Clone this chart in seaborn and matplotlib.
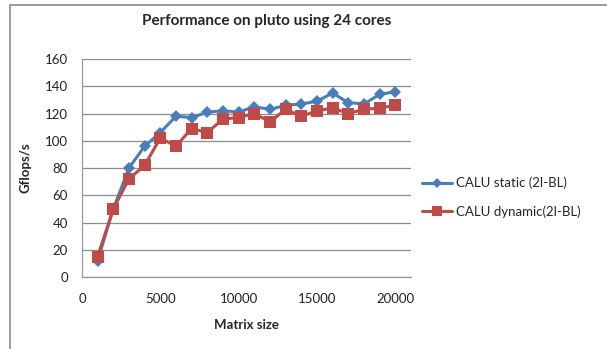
import matplotlib
matplotlib.use("Agg")
import matplotlib.pyplot as plt
import matplotlib.patches as mpatches
import numpy as np
import pandas as pd
import seaborn as sns

# Matrix sizes and measured throughput (Gflops/s)
matrix_size = [1000, 2000, 3000, 4000, 5000, 6000, 7000, 8000, 9000, 10000,
               11000, 12000, 13000, 14000, 15000, 16000, 17000, 18000, 19000, 20000]
calu_static = [12, 50, 80, 96, 106, 118, 117, 121, 122, 121,
               125, 123, 126, 127, 129, 135, 128, 127, 134, 136]
calu_dynamic = [15, 50, 72, 82, 102, 96, 109, 106, 116, 117,
                120, 114, 123, 118, 122, 124, 120, 123, 124, 126]
series_names = ["CALU static (2l-BL)", "CALU dynamic(2l-BL)"]
y_ticks = [0, 20, 40, 60, 80, 100, 120, 140, 160]
x_ticks = [0, 5000, 10000, 15000, 20000]

df = pd.DataFrame({
    "Matrix size": matrix_size * 2,
    "Gflops/s": calu_static + calu_dynamic,
    "series": [series_names[0]] * len(matrix_size) + [series_names[1]] * len(matrix_size),
})

sns.set_theme(style="white")
plt.rcParams["font.family"] = ["Lato", "DejaVu Sans"]

fig = plt.figure(figsize=(6.07, 3.49), dpi=100)
ax = fig.add_axes([0.135, 0.206, 0.542, 0.625])

palette = {series_names[0]: "#4A7EBB", series_names[1]: "#BE4B48"}
sns.lineplot(data=df, x="Matrix size", y="Gflops/s", hue="series", style="series",
             markers={series_names[0]: "D", series_names[1]: "s"},
             dashes=False, palette=palette, linewidth=2.2, ax=ax,
             legend=False)
for line, ms in zip(ax.lines, [6, 8.5]):
    line.set_markersize(ms)
    line.set_markeredgewidth(0)

ax.set_xlim(0, 21000)
ax.set_ylim(0, 160)
ax.set_xticks(x_ticks)
ax.set_yticks(y_ticks)
ax.tick_params(axis="both", labelsize=9.5, colors="#222222", width=0.8)
ax.tick_params(axis="x", color="#999999", length=7, direction="inout", pad=8)
ax.tick_params(axis="y", color="#999999", length=4, direction="out", pad=6)
ax.yaxis.grid(True, color="#8c8c8c", linewidth=0.9)
ax.set_axisbelow(True)
for side in ["top", "right"]:
    ax.spines[side].set_visible(False)
for side in ["left", "bottom"]:
    ax.spines[side].set_color("#999999")
    ax.spines[side].set_linewidth(0.9)

ax.set_xlabel("Matrix size", fontsize=9.5, fontweight="bold", labelpad=10)
ax.set_ylabel("Gflops/s", fontsize=9.5, fontweight="bold", labelpad=10)
fig.text(0.44, 0.94, "Performance on pluto using 24 cores", ha="center",
         va="center", fontsize=11, fontweight="bold")

handles = [
    plt.Line2D([], [], color=palette[series_names[0]], marker="D", markersize=5,
               linewidth=2.2, markeredgewidth=0),
    plt.Line2D([], [], color=palette[series_names[1]], marker="s", markersize=7,
               linewidth=2.2, markeredgewidth=0),
]
fig.legend(handles, series_names, loc="center left", bbox_to_anchor=(0.675, 0.435),
           frameon=False, fontsize=9.5, handlelength=2.3, handletextpad=0.3,
           labelspacing=1.2)

# outer chart frame
frame = mpatches.Rectangle((10 / 607, -0.1), 1.2, 1.1 - 5 / 349,
                           transform=fig.transFigure, fill=False,
                           edgecolor="#8a8a8a", linewidth=1.2)
fig.patches.append(frame)

fig.savefig("out.png", dpi=100)
